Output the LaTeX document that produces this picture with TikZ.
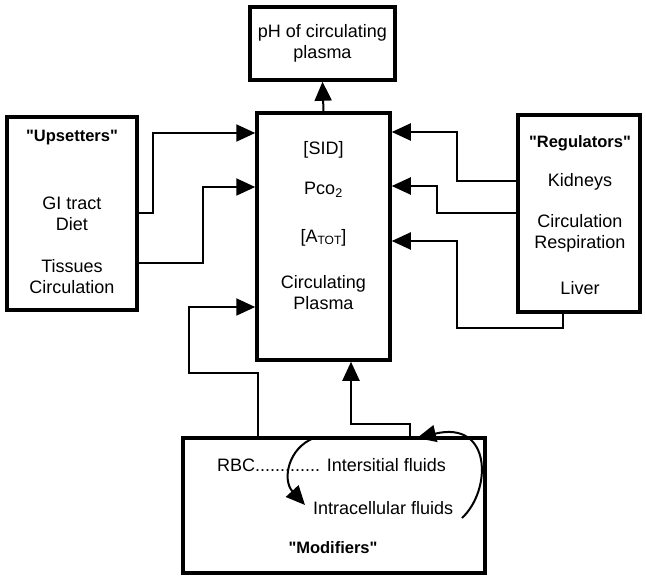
\documentclass[tikz,border=0pt]{standalone}
\usepackage{fontspec}
\setmainfont{Liberation Sans}
\newfontfamily\qfont{Liberation Sans}
\usetikzlibrary{arrows.meta,calc}
\newcommand{\dq}{{\qfont\bfseries "}}
\begin{document}
\begin{tikzpicture}[x=1pt,y=-1pt,
  box/.style={draw,line width=3.5pt,inner sep=0pt},
  conn/.style={line width=2pt},
  arr/.style={conn,-{Triangle[length=19pt,width=17pt]}},
  txt/.style={font=\fontsize{18}{21}\selectfont,align=center,inner sep=0pt},
  ttl/.style={font=\fontsize{16.5}{21}\selectfont\bfseries,align=center,inner sep=0pt}]
\useasboundingbox (0,0) rectangle (646,576);
% boxes
\node[box,minimum width=145pt,minimum height=73pt] (ph) at (322.5,43.5) {};
\node[box,minimum width=133pt,minimum height=247pt] (cp) at (323.5,236.5) {};
\node[box,minimum width=130pt,minimum height=193pt] (ups) at (72,213.5) {};
\node[box,minimum width=122pt,minimum height=197pt] (reg) at (579,213.5) {};
\node[box,minimum width=302pt,minimum height=135pt] (mod) at (334,505.5) {};
% texts
\node[txt] (t1) at (322.5,43) {pH of circulating\\plasma};
\node[ttl] (u0) at (72,138) {\dq Upsetters\dq};
\node[txt] (u1) at (72,213.5) {GI tract\\Diet};
\node[txt] (u2) at (72,276.5) {Tissues\\Circulation};
\node[txt] (c1) at (323.5,150) {[SID]};
\node[txt] (c2) at (323.5,190) {Pco\textsubscript{2}};
\node[txt] (c3) at (323.5,238) {[A{\fontsize{12}{12}\selectfont\raisebox{-1.5pt}{TOT}}]};
\node[txt] (c4) at (323.5,292.5) {Circulating\\Plasma};
\node[ttl] (r0) at (580,143) {\dq Regulators\dq};
\node[txt] (r1) at (580,182) {Kidneys};
\node[txt] (r2) at (580,233.5) {Circulation\\Respiration};
\node[txt] (r3) at (580,288) {Liver};
\node[txt,anchor=west] (m1) at (217,465) {RBC............. Intersitial fluids};
\node[txt,anchor=west] (m2) at (313,508) {Intracellular fluids};
\node[ttl] (m0) at (333,548) {\dq Modifiers\dq};
% connectors
\draw[arr] (cp.north) -- (ph.south);
\draw[arr] (ups.east |- 0,213) -- (153,213) |- (cp.west |- 0,133);
\draw[arr] (ups.east |- 0,263) -- (203,263) |- (cp.west |- 0,187);
\draw[arr] (reg.west |- 0,181) -- (457,181) |- (cp.east |- 0,132);
\draw[arr] (reg.west |- 0,213) -- (437,213) |- (cp.east |- 0,186);
\draw[arr] (reg.south -| 563,0) -- (563,328) -- (457,328) |- (cp.east |- 0,241);
\draw[arr] (mod.north -| 258,0) -- (258,373) -- (189,373) |- (cp.west |- 0,307);
\draw[arr] (mod.north -| 410,0) -- (410,424) -- (351,424) -- (cp.south -| 351,0);
% curved arrows
\coordinate (a1) at (462,518);
\coordinate (a2) at (417,438);
\draw[arr] (a1) .. controls (492,490) and (492,420) .. (a2);
\coordinate (b1) at (314,438);
\coordinate (b2) at (305,505);
\draw[arr] (b1) .. controls (288,448) and (282,480) .. (b2);
\end{tikzpicture}
\end{document}
